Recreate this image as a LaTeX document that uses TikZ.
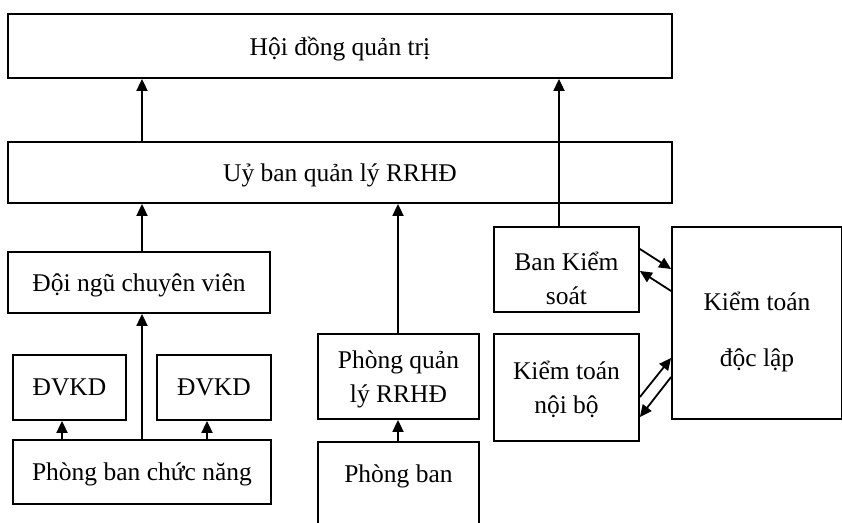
\documentclass[tikz,border=0pt]{standalone}
\usepackage{fontspec}
\setmainfont{Liberation Serif}
\usetikzlibrary{arrows.meta}
\begin{document}
\begin{tikzpicture}[x=1pt,y=-1pt,
  txt/.style={inner sep=0pt, align=center,
    font=\fontsize{25.5}{34}\selectfont, text depth=0pt},
  box/.style={txt, draw, line width=1.8pt},
  arr/.style={line width=1.8pt, -{Triangle[length=12pt,width=11pt]}}]
\useasboundingbox (0,0) rectangle (842,522);
\begin{scope}
\clip (0,0) rectangle (842,522);
% board and committee
\node[box, minimum width=664, minimum height=64] (hdqt) at (340,46) {Hội đồng quản trị};
\node[box, minimum width=664, minimum height=61] (uyban) at (340,172.5) {Uỷ ban quản lý RRHĐ};
% left branch
\node[box, minimum width=262, minimum height=61] (doingu) at (139,282.5) {Đội ngũ chuyên viên};
\node[box, minimum width=113, minimum height=65] (dvkd1) at (69.5,387.5) {ĐVKD};
\node[box, minimum width=114, minimum height=65] (dvkd2) at (214,387.5) {ĐVKD};
\node[box, minimum width=258, minimum height=64] (pbcn) at (142,472) {Phòng ban chức năng};
% middle branch
\node[box, minimum width=161, minimum height=85] (pql) at (398.5,376.5) {Phòng quản\\lý RRHĐ};
\node[box, minimum width=161, minimum height=84] (pb) at (398.5,484) {};
\node[txt] (pbt) at (398.5,474) {Phòng ban};
% control and audit
\node[box, minimum width=145, minimum height=85] (bks) at (566.5,269.5) {};
\node[txt] (bkst) at ([yshift=-9pt]bks.center) {Ban Kiểm\\soát};
\node[box, minimum width=145, minimum height=107] (ktnb) at (566.5,387.5) {Kiểm toán\\nội bộ};
\node[box, minimum width=170, minimum height=192] (ktdl) at (757,323) {};
\node[txt, font=\fontsize{25.5}{56}\selectfont] (ktdlt) at (757,329) {Kiểm toán\\độc lập};
\end{scope}
% vertical links
\coordinate (c1) at (142,0);
\coordinate (c2) at (559,0);
\coordinate (c3) at (398,0);
\coordinate (c4) at (62,0);
\coordinate (c5) at (207,0);
\draw[arr] (uyban.north -| c1) -- (hdqt.south -| c1);
\draw[arr] (bks.north -| c2) -- (hdqt.south -| c2);
\draw[arr] (doingu.north -| c1) -- (uyban.south -| c1);
\draw[arr] (pql.north -| c3) -- (uyban.south -| c3);
\draw[arr] (pbcn.north -| c1) -- (doingu.south -| c1);
\draw[arr] (pbcn.north -| c4) -- (dvkd1.south -| c4);
\draw[arr] (pbcn.north -| c5) -- (dvkd2.south -| c5);
\draw[arr] (pb.north -| c3) -- (pql.south -| c3);
% two-way links with the independent auditor
\coordinate (a1) at (0,249); \coordinate (a2) at (0,269);
\coordinate (a3) at (0,291); \coordinate (a4) at (0,271);
\coordinate (a5) at (0,397); \coordinate (a6) at (0,358);
\coordinate (a7) at (0,377); \coordinate (a8) at (0,417);
\draw[arr] (bks.east |- a1) -- (ktdl.west |- a2);
\draw[arr] (ktdl.west |- a3) -- (bks.east |- a4);
\draw[arr] (ktnb.east |- a5) -- (ktdl.west |- a6);
\draw[arr] (ktdl.west |- a7) -- (ktnb.east |- a8);
\end{tikzpicture}
\end{document}
